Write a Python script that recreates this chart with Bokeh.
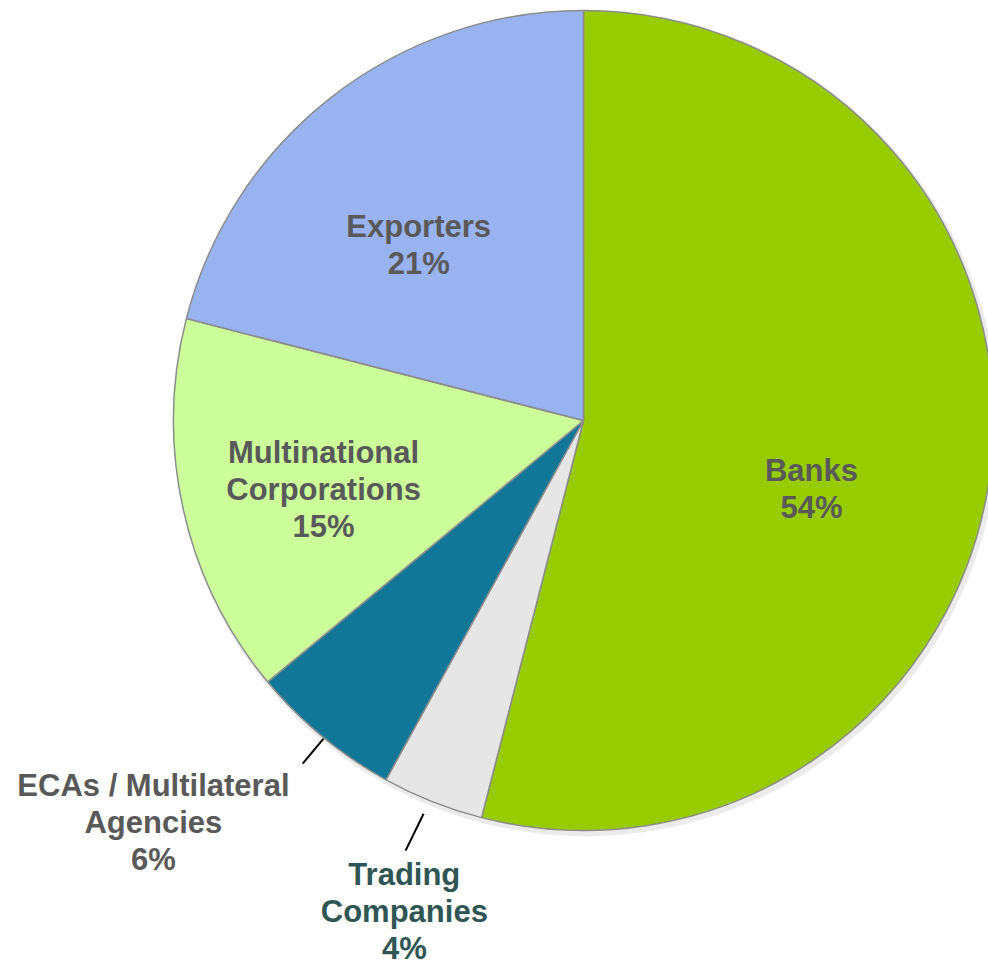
import math
from bokeh.plotting import figure
from bokeh.models import Range1d, ColumnDataSource
from bokeh.core.properties import value
from bokeh.embed import file_html
from bokeh.resources import INLINE

# Data
categories = ["Banks", "Trading\nCompanies", "ECAs / Multilateral\nAgencies",
              "Multinational\nCorporations", "Exporters"]
shares = [54, 4, 6, 15, 21]
colors = ["#99CC00", "#E6E6E6", "#117799", "#CCFF99", "#99B3F0"]
label_colors = ["#595959", "#2F5555", "#595959", "#595959", "#595959"]

# label anchor positions (data units, pie radius = 1)
label_x = [0.556, -0.437, -1.049, -0.634, -0.402]
label_y = [-0.166, -1.198, -0.980, -0.168, 0.427]

# leader lines for outside labels
leader_x = [[-0.390, -0.434], [-0.634, -0.685]]
leader_y = [[-0.959, -1.049], [-0.776, -0.837]]

W, H = 988, 969
scale = 410.0
cx_px, cy_px = 583.0, 420.0

p = figure(width=W, height=H, output_backend="svg", toolbar_location=None,
           min_border=0, x_range=Range1d(-cx_px / scale, (W - cx_px) / scale),
           y_range=Range1d(-(H - cy_px) / scale, cy_px / scale))
p.axis.visible = False
p.grid.visible = False
p.outline_line_color = None
p.background_fill_color = "white"
p.border_fill_color = "white"

total = sum(shares)
starts, ends = [], []
cum = 0
for s in shares:
    starts.append(math.pi / 2 - 2 * math.pi * cum / total)
    cum += s
    ends.append(math.pi / 2 - 2 * math.pi * cum / total)

# soft shadow
p.circle(x=[0.006], y=[-0.008], radius=1.006, fill_color="#D8D8D8",
         fill_alpha=0.5, line_color=None)

src = ColumnDataSource(dict(start=starts, end=ends, color=colors))
p.wedge(x=0, y=0, radius=1, start_angle="start", end_angle="end",
        direction="clock", fill_color="color", line_color="#8C8C8C",
        line_width=1.5, source=src)

# labels
pct = [f"{s}%" for s in shares]
texts = [f"{c}\n{q}" for c, q in zip(categories, pct)]
lsrc = ColumnDataSource(dict(x=label_x, y=label_y, t=texts, c=label_colors))
p.text(x="x", y="y", text="t", text_color="c", source=lsrc,
       text_font=value("Liberation Sans"), text_font_style="bold",
       text_font_size="31px", text_align="center", text_baseline="middle",
       text_line_height=1.06)

p.multi_line(xs=leader_x, ys=leader_y, line_color="black", line_width=2)

open("out.html", "w").write(file_html(p, INLINE))
